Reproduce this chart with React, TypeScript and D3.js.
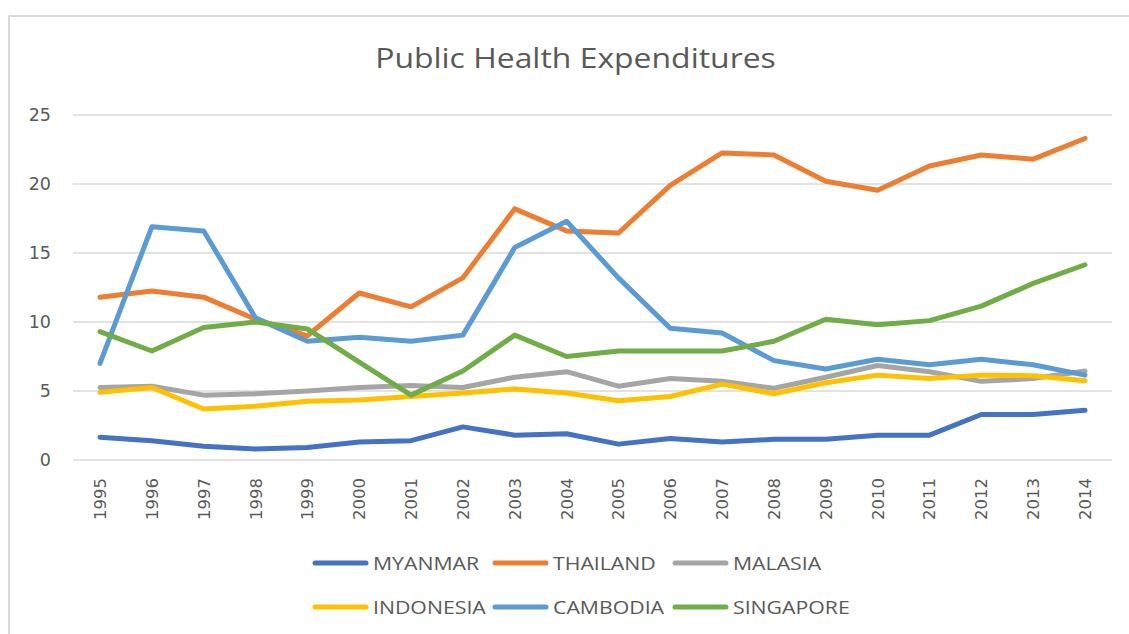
import React from "react";
import * as d3 from "d3";

const years = ["1995","1996","1997","1998","1999","2000","2001","2002","2003","2004","2005","2006","2007","2008","2009","2010","2011","2012","2013","2014"];
const myanmar = [1.65,1.4,1.0,0.8,0.9,1.3,1.4,2.4,1.8,1.9,1.15,1.55,1.3,1.5,1.5,1.8,1.8,3.3,3.3,3.6];
const thailand = [11.8,12.25,11.8,10.2,9.0,12.1,11.1,13.2,18.2,16.6,16.45,19.9,22.25,22.1,20.2,19.55,21.3,22.1,21.8,23.3];
const malasia = [5.25,5.35,4.7,4.8,5.0,5.25,5.4,5.25,6.0,6.4,5.35,5.9,5.7,5.2,6.0,6.85,6.4,5.7,5.9,6.45];
const indonesia = [4.9,5.25,3.7,3.9,4.25,4.35,4.6,4.85,5.15,4.85,4.3,4.6,5.5,4.8,5.6,6.15,5.9,6.15,6.1,5.75];
const cambodia = [7.0,16.9,16.6,10.3,8.6,8.9,8.6,9.05,15.4,17.3,13.2,9.55,9.2,7.2,6.6,7.3,6.9,7.3,6.9,6.15];
const singapore = [9.3,7.9,9.6,10.0,9.5,7.1,4.7,6.45,9.05,7.5,7.9,7.9,7.9,8.6,10.2,9.8,10.1,11.15,12.8,14.15];
const yTicks = [0,5,10,15,20,25];

const seriesNames = ["MYANMAR","THAILAND","MALASIA","INDONESIA","CAMBODIA","SINGAPORE"];
const seriesValues = [myanmar, thailand, malasia, indonesia, cambodia, singapore];
const seriesColors = ["#4472C4","#ED7D31","#A5A5A5","#FFC000","#5B9BD5","#70AD47"];

const W = 1129, H = 634;
const TEXT = "#595959";
const GRID = "#d9d9d9";

export default function App() {
  const x = d3.scalePoint<string>().domain(years).range([100, 1085]);
  const y = d3.scaleLinear().domain([0, 25]).range([460, 115]);
  const line = d3.line<number>().x((_, i) => x(years[i]) as number).y(d => y(d));
  const legendCols = [313, 493, 673];
  const legendRows = [563, 607];

  return (
    <svg width={W} height={H} style={{ position: "absolute", left: 0, top: 0, background: "#fff" }}>
      <rect x={0} y={0} width={W} height={H} fill="#fff" />
      <line x1={9} y1={16} x2={W} y2={16} stroke={GRID} strokeWidth={2} />
      <line x1={9} y1={16} x2={9} y2={H} stroke={GRID} strokeWidth={2} />
      <text transform={`translate(575.5,68) scale(1.14,1)`} textAnchor="middle" fontFamily="'Open Sans'" fontSize={28} fill={TEXT}>Public Health Expenditures</text>
      {yTicks.map(t => (
        <g key={t}>
          <line x1={73} x2={1112} y1={y(t)} y2={y(t)} stroke={GRID} strokeWidth={1.5} />
          <text x={51} y={y(t)} dy="0.35em" textAnchor="end" fontFamily="'DejaVu Sans'" fontSize={17.5} fill={TEXT}>{t}</text>
        </g>
      ))}
      {years.map(yr => (
        <text key={yr} transform={`translate(${(x(yr) as number) + 6},478) rotate(-90)`} textAnchor="end" fontFamily="'DejaVu Sans'" fontSize={16.5} fill={TEXT}>{yr}</text>
      ))}
      {seriesValues.map((vals, i) => (
        <path key={seriesNames[i]} d={line(vals) || ""} fill="none" stroke={seriesColors[i]} strokeWidth={5} strokeLinejoin="round" strokeLinecap="round" />
      ))}
      {seriesNames.map((name, i) => {
        const lx = legendCols[i % 3];
        const ly = legendRows[Math.floor(i / 3)];
        return (
          <g key={name}>
            <line x1={lx + 2} x2={lx + 53} y1={ly} y2={ly} stroke={seriesColors[i]} strokeWidth={5} strokeLinecap="round" />
            <text transform={`translate(${lx + 60},${ly}) scale(1.15,1)`} dy="0.36em" fontFamily="'Open Sans'" fontSize={18.5} fill={TEXT}>{name}</text>
          </g>
        );
      })}
    </svg>
  );
}
